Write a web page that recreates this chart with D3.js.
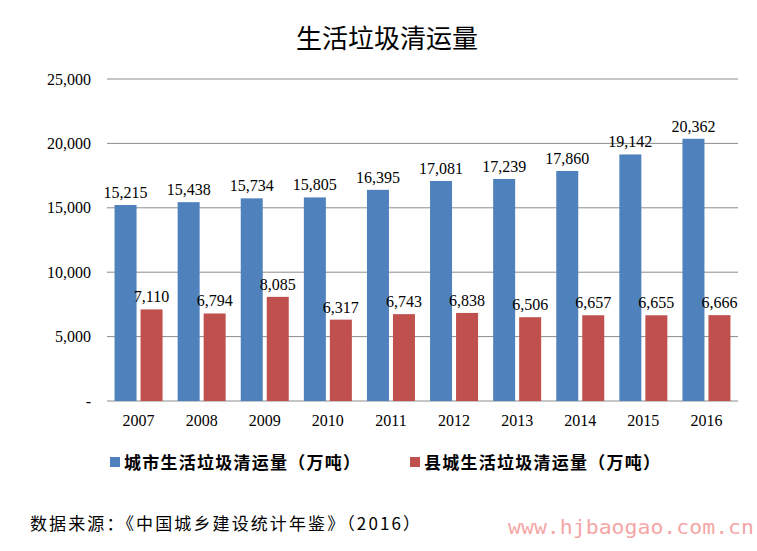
<!DOCTYPE html>
<html><head><meta charset="utf-8">
<script src="https://cdn.jsdelivr.net/npm/d3@7"></script>
<style>body{margin:0;background:#fff}</style>
</head><body>
<svg id="chart" width="757" height="551"></svg>
<script>
// Data.
var years = ['2007','2008','2009','2010','2011','2012','2013','2014','2015','2016'];
var cityValues = [15215,15438,15734,15805,16395,17081,17239,17860,19142,20362];
var countyValues = [7110,6794,8085,6317,6743,6838,6506,6657,6655,6666];
var seriesNames = ['城市生活垃圾清运量（万吨）','县城生活垃圾清运量（万吨）'];
var yTicks = [0,5000,10000,15000,20000,25000];

var kBlue = '#4F81BD', kRed = '#C0504D';
var kSerif = '"Liberation Serif","Times New Roman",serif';
var kCjk = '"Noto Sans CJK SC",sans-serif';

var svg = d3.select('#chart');
var plotLeft = 107, plotRight = 738, plotTop = 79, plotBottom = 401;

var x = d3.scaleBand().domain(years).range([plotLeft, plotRight]);
var y = d3.scaleLinear().domain([0, 25000]).range([plotBottom, plotTop]);

// Title.
svg.append('text').attr('x', 387).attr('y', 48).attr('text-anchor', 'middle')
  .style('font-family', kCjk).style('font-size', '26px').text('生活垃圾清运量');

// Grid.
svg.selectAll('line.grid').data(yTicks).enter().append('line')
  .attr('x1', plotLeft).attr('x2', plotRight)
  .attr('y1', function(d) { return y(d); }).attr('y2', function(d) { return y(d); })
  .attr('stroke', '#8c8c8c').attr('stroke-width', 1);

// Axes.
var yAxis = d3.axisLeft(y).tickValues(yTicks).tickSize(0).tickPadding(16)
  .tickFormat(function(d) { return d == 0 ? '-' : d3.format(',')(d); });
var gy = svg.append('g').attr('transform', 'translate(' + plotLeft + ',0)').call(yAxis);
gy.select('.domain').remove();
gy.selectAll('text').style('font-family', kSerif).style('font-size', '16px').attr('fill', '#000');

var xAxis = d3.axisBottom(x).tickSize(0).tickPadding(14);
var gx = svg.append('g').attr('transform', 'translate(0,' + plotBottom + ')').call(xAxis);
gx.select('.domain').remove();
gx.selectAll('text').style('font-family', kSerif).style('font-size', '16px').attr('fill', '#000');

// Bars.
var barW = 22, gap = 4;
function drawSeries(values, color, offset) {
  var g = svg.append('g');
  g.selectAll('rect').data(values).enter().append('rect')
    .attr('x', function(d, i) { return x(years[i]) + x.bandwidth() / 2 + offset; })
    .attr('y', function(d) { return y(d); })
    .attr('width', barW).attr('height', function(d) { return plotBottom - y(d); })
    .attr('fill', color);
  g.selectAll('text').data(values).enter().append('text')
    .attr('x', function(d, i) { return x(years[i]) + x.bandwidth() / 2 + offset + barW / 2; })
    .attr('y', function(d) { return y(d) - 7; })
    .attr('text-anchor', 'middle')
    .style('font-family', kSerif).style('font-size', '16px')
    .text(function(d) { return d3.format(',')(d); });
}
drawSeries(cityValues, kBlue, -barW - gap / 2);
drawSeries(countyValues, kRed, gap / 2);

// Legend.
var legend = [[seriesNames[0], kBlue, 110], [seriesNames[1], kRed, 410]];
legend.forEach(function(l) {
  svg.append('rect').attr('x', l[2]).attr('y', 457).attr('width', 10).attr('height', 10).attr('fill', l[1]);
  svg.append('text').attr('x', l[2] + 14).attr('y', 469)
    .attr('textLength', 236).attr('lengthAdjust', 'spacing')
    .style('font-family', kCjk).style('font-size', '17px').style('font-weight', 'bold').text(l[0]);
});

// Source.
svg.append('text').attr('x', 30).attr('y', 530)
  .attr('textLength', 390).attr('lengthAdjust', 'spacing')
  .style('font-family', kCjk).style('font-size', '17px').text('数据来源：《中国城乡建设统计年鉴》（2016）');
svg.append('text').attr('x', 508).attr('y', 534)
  .attr('textLength', 246).attr('lengthAdjust', 'spacingAndGlyphs')
  .style('font-family', '"DejaVu Sans Mono",monospace').style('font-size', '19px')
  .attr('fill', '#f4a6a6').text('www.hjbaogao.com.cn');
</script>
</body></html>
